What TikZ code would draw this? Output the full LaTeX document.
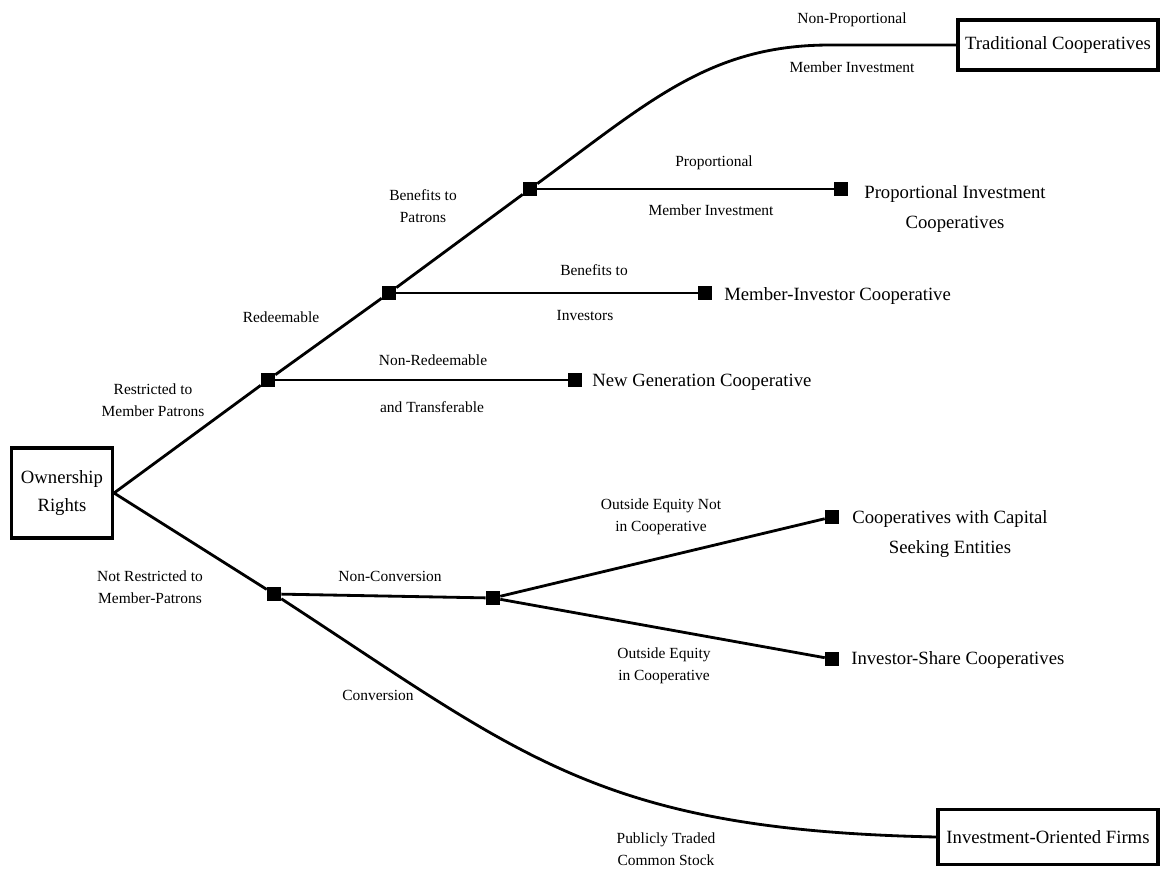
\documentclass[tikz,border=0pt]{standalone}
\usepackage{fontspec}
\setmainfont{Liberation Serif}
\usetikzlibrary{positioning}

\begin{document}
\begin{tikzpicture}[x=0.025cm,y=-0.025cm,
	sq/.style={fill=black,minimum size=0.35cm,inner sep=0pt},
	lab/.style={font=\fontsize{11}{16}\selectfont,align=center,inner sep=0pt},
	leaf/.style={font=\fontsize{13.3}{22}\selectfont,align=center,inner sep=0pt},
	box/.style={draw,line width=2.2pt,align=center,font=\fontsize{13.3}{20}\selectfont},
	br/.style={line width=2pt}]
				\useasboundingbox (0,0) rectangle (1166,870);
				% boxes
				\node[box,minimum width=2.525cm,minimum height=2.25cm] (own) at (62,493) {Ownership\\Rights};
				\node[box,minimum width=5cm,minimum height=1.25cm] (trad) at (1058,45) {Traditional Cooperatives};
				\node[box,minimum width=5.5cm,minimum height=1.375cm] (inv) at (1048,837) {Investment-Oriented Firms};
				% decision points and end points
				\node[sq] (n1) at (268,380) {};
				\node[sq] (n2) at (389,293) {};
				\node[sq] (n3) at (530,189) {};
				\node[sq] (e1) at (575,380) {};
				\node[sq] (e2) at (705,293) {};
				\node[sq] (e3) at (841,189) {};
				\node[sq] (n4) at (274,594) {};
				\node[sq] (n5) at (493,598) {};
				\node[sq] (e4) at (832,517) {};
				\node[sq] (e5) at (832,659) {};
				\coordinate (bend) at (830,45);
				% branches
				\draw[br] (own.east) -- (n1) -- (n2) -- (n3);
				\draw[br] (n3) .. controls (650,101) and (710,45) .. (bend) -- (trad.west);
				\draw[br] (n3) -- (e3);
				\draw[br] (n2) -- (e2);
				\draw[br] (n1) -- (e1);
				\draw[br] (own.east) -- (n4) -- (n5);
				\draw[br] (n5) -- (e4);
				\draw[br] (n5) -- (e5);
				\draw[br] (n4) .. controls (524,757) and (600,830) .. (inv.west);
				% outcomes
				\node[leaf] (pic) at (955,209) {Proportional Investment\\Cooperatives};
				\node[leaf,anchor=west] (mic) at (724,296) {Member-Investor Cooperative};
				\node[leaf,anchor=west] (ngc) at (592,382) {New Generation Cooperative};
				\node[leaf] (cwc) at (950,534) {Cooperatives with Capital\\Seeking Entities};
				\node[leaf,anchor=west] (isc) at (851,660) {Investor-Share Cooperatives};
				% branch labels
				\node[lab] (l1) at (852,20) {Non-Proportional};
				\node[lab] (l2) at (852,67) {Member Investment};
				\node[lab] (l3) at (714,163) {Proportional};
				\node[lab] (l4) at (711,210) {Member Investment};
				\node[lab] (l5) at (594,270) {Benefits to};
				\node[lab] (l6) at (585,316) {Investors};
				\node[lab] (l7) at (433,360) {Non-Redeemable};
				\node[lab] (l8) at (432,407) {and Transferable};
				\node[lab] (l9) at (423,206) {Benefits to\\Patrons};
				\node[lab] (l10) at (281,317) {Redeemable};
				\node[lab] (l11) at (153,400) {Restricted to\\Member Patrons};
				\node[lab] (l12) at (150,587) {Not Restricted to\\Member-Patrons};
				\node[lab] (l13) at (390,576) {Non-Conversion};
				\node[lab] (l14) at (661,517) {Outside Equity Not\\in Cooperative};
				\node[lab] (l15) at (664,666) {Outside Equity\\in Cooperative};
				\node[lab] (l16) at (378,695) {Conversion};
				\node[lab] (l17) at (666,849) {Publicly Traded\\Common Stock};
			\end{tikzpicture}
\end{document}
